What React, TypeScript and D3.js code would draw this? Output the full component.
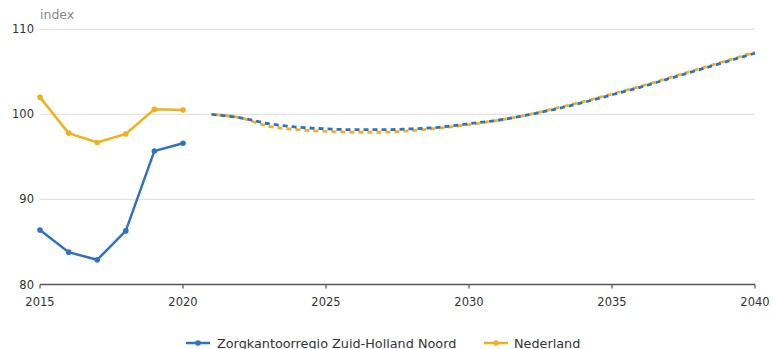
import React from "react";
import * as d3 from "d3";

const histYears = [2015, 2016, 2017, 2018, 2019, 2020];
const histRegio = [86.4, 83.8, 82.9, 86.3, 95.7, 96.6];
const histNL = [102.0, 97.8, 96.7, 97.7, 100.6, 100.5];

const progYears = [2021, 2022, 2023, 2024, 2025, 2026, 2027, 2028, 2029, 2030, 2031, 2032, 2033, 2034, 2035, 2036, 2037, 2038, 2039, 2040];
const progRegio = [100, 99.6, 98.9, 98.5, 98.3, 98.2, 98.2, 98.3, 98.5, 98.9, 99.3, 99.9, 100.6, 101.4, 102.3, 103.2, 104.2, 105.2, 106.2, 107.2];
const progNL = [100, 99.6, 98.6, 98.2, 98.0, 97.9, 97.9, 98.1, 98.4, 98.8, 99.3, 99.9, 100.7, 101.5, 102.4, 103.3, 104.3, 105.3, 106.3, 107.3];

const yTicks = [80, 90, 100, 110];
const xTicks = [2015, 2020, 2025, 2030, 2035, 2040];
const seriesNames = ["Zorgkantoorregio Zuid-Holland Noord", "Nederland"];

const BLUE = "#2f72c0";
const YELLOW = "#f2b01e";
const FONT = "'DejaVu Sans', Verdana, sans-serif";

export default function App() {
  const W = 773, H = 349;
  const x = d3.scaleLinear().domain([2015, 2040]).range([40, 755]);
  const y = d3.scaleLinear().domain([80, 110]).range([284.5, 29.3]);

  const lineStraight = d3.line<[number, number]>().x(d => x(d[0])).y(d => y(d[1]));
  const lineSmooth = d3.line<[number, number]>().x(d => x(d[0])).y(d => y(d[1])).curve(d3.curveMonotoneX);

  const hR = histYears.map((yr, i) => [yr, histRegio[i]] as [number, number]);
  const hN = histYears.map((yr, i) => [yr, histNL[i]] as [number, number]);
  const pR = progYears.map((yr, i) => [yr, progRegio[i]] as [number, number]);
  const pN = progYears.map((yr, i) => [yr, progNL[i]] as [number, number]);

  return (
    <svg width={W} height={H} style={{ position: "absolute", left: 0, top: 0, background: "#fff" }}>
      {yTicks.filter(t => t !== 80).map(t => (
        <line key={t} x1={40} x2={755} y1={y(t)} y2={y(t)} stroke="#e3e3e3" strokeWidth={1.2} />
      ))}
      {yTicks.map(t => (
        <text key={t} x={34} y={y(t) + 4} textAnchor="end" fontFamily={FONT} fontSize={11.5} fill="#333">{t}</text>
      ))}
      <text x={40} y={19} fontFamily={FONT} fontSize={12.5} fill="#888">index</text>
      <line x1={40} x2={755} y1={y(80)} y2={y(80)} stroke="#555" strokeWidth={1.5} />
      {xTicks.map(t => (
        <g key={t}>
          <line x1={x(t)} x2={x(t)} y1={y(80)} y2={y(80) + 4} stroke="#555" strokeWidth={1.2} />
          <text x={x(t)} y={306} textAnchor="middle" fontFamily={FONT} fontSize={11.5} fill="#333">{t}</text>
        </g>
      ))}
      <path d={lineStraight(hN) || ""} fill="none" stroke={YELLOW} strokeWidth={2.5} />
      {hN.map((d, i) => <circle key={"n" + i} cx={x(d[0])} cy={y(d[1])} r={2.8} fill={YELLOW} />)}
      <path d={lineStraight(hR) || ""} fill="none" stroke={BLUE} strokeWidth={2.5} />
      {hR.map((d, i) => <circle key={"r" + i} cx={x(d[0])} cy={y(d[1])} r={2.8} fill={BLUE} />)}
      <path d={lineSmooth(pN) || ""} fill="none" stroke={YELLOW} strokeWidth={2.8} strokeDasharray="5 4" strokeDashoffset={4.5} />
      <path d={lineSmooth(pR) || ""} fill="none" stroke={BLUE} strokeWidth={2.8} strokeDasharray="5 4" />
      <g>
        <line x1={186} x2={210} y1={343} y2={343} stroke={BLUE} strokeWidth={2.5} />
        <circle cx={198} cy={343} r={2.8} fill={BLUE} />
        <text x={217} y={347.5} fontFamily={FONT} fontSize={12.8} fill="#333">{seriesNames[0]}</text>
        <line x1={484} x2={508} y1={343} y2={343} stroke={YELLOW} strokeWidth={2.5} />
        <circle cx={496} cy={343} r={2.8} fill={YELLOW} />
        <text x={514} y={347.5} fontFamily={FONT} fontSize={12.8} fill="#333">{seriesNames[1]}</text>
      </g>
    </svg>
  );
}
